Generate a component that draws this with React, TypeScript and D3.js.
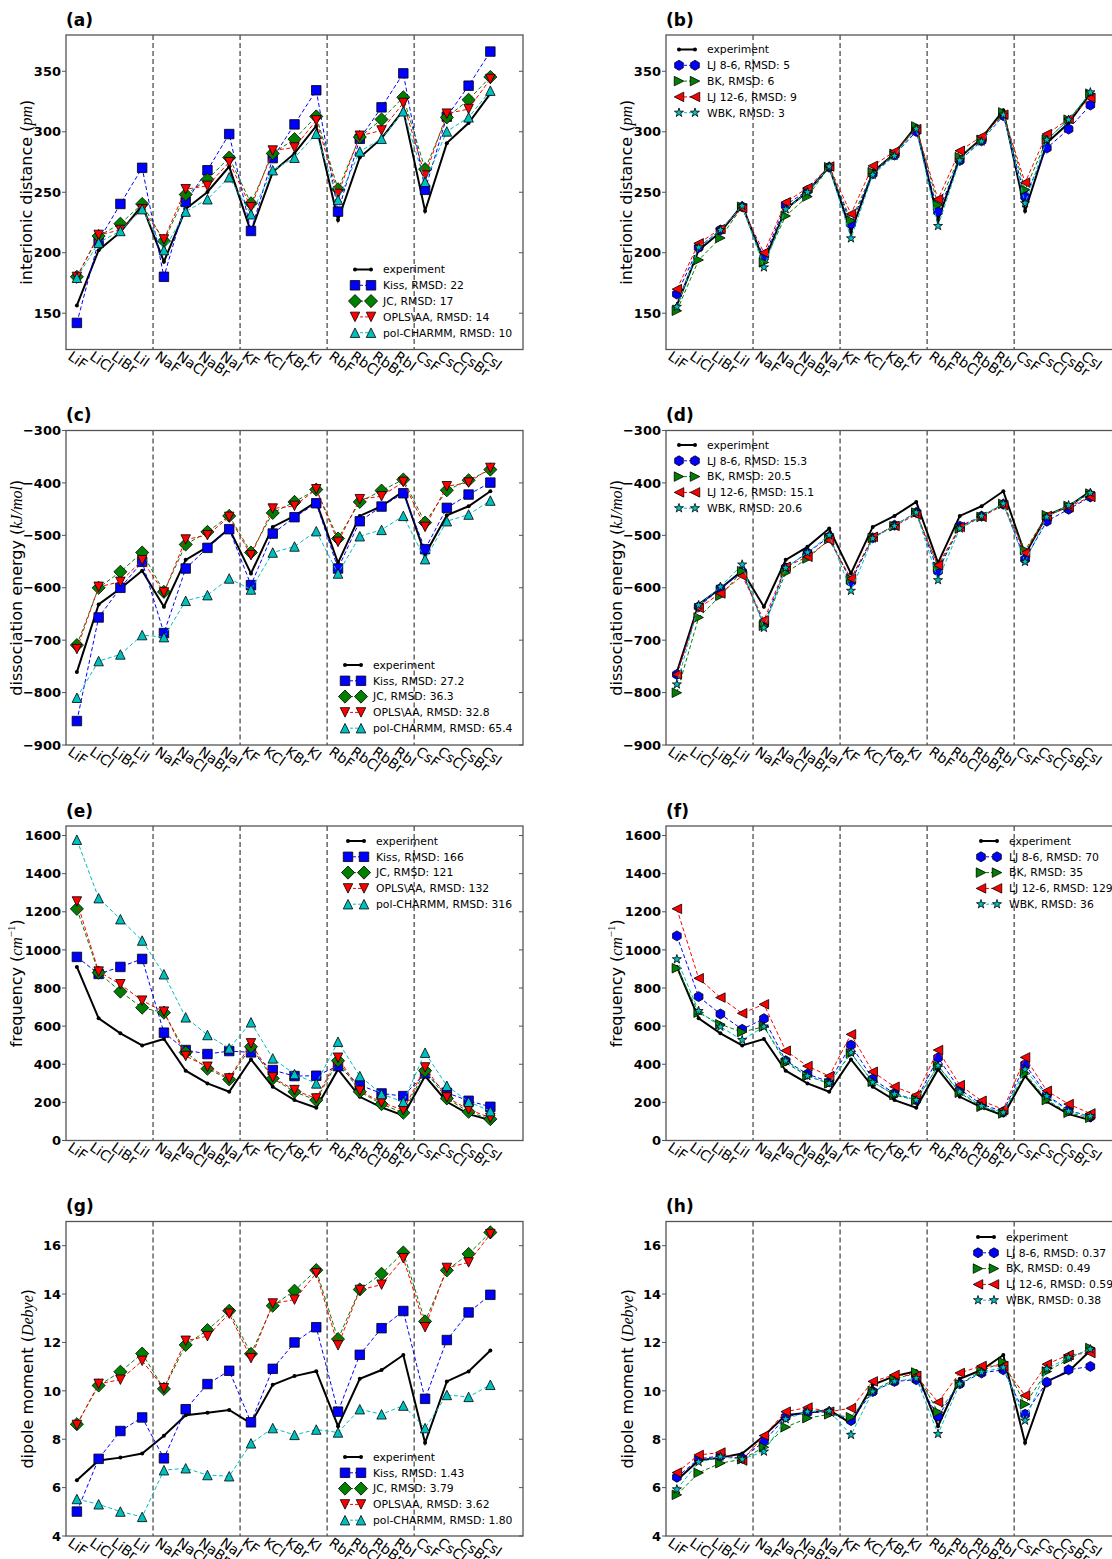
import React from "react";
import * as d3 from "d3";

// ---------- categories ----------
const salts = ["LiF","LiCl","LiBr","LiI","NaF","NaCl","NaBr","NaI","KF","KCl","KBr","KI","RbF","RbCl","RbBr","RbI","CsF","CsCl","CsBr","CsI"];
const separators = [3.5, 7.5, 11.5, 15.5];

// ---------- interionic distance (pm) ----------
const distExp = [156.4,202.1,217.0,239.2,192.6,236.1,250.2,271.2,217.2,266.7,282.1,304.8,227.0,278.7,294.5,317.7,234.5,290.6,307.2,331.5];
const distKiss = [142,210,240.3,270.2,180.1,242,268.2,298.1,218,278.2,306.1,334.3,234,294.2,320.2,348.3,252,312.5,338.1,366.3];
const distJC = [180.1,213.8,224,240.3,209.7,248.1,260.5,278.7,240.9,282.1,293.9,312.7,252.5,295.6,310.2,328.5,269.1,311.9,326.5,345.3];
const distOPLS = [180,214.7,218.8,236,211,252.5,255.3,274.9,237.6,284.5,287,309.4,248.6,296.7,301.1,323.8,263.8,315,318.8,343.6];
const distPol = [179.3,208.3,218,236,202.2,234,244.2,262.4,231.8,268.2,278.5,298.4,243.7,283.7,294.2,316.9,258.6,300.3,311.9,334];
const distLJ86 = [165.8,204.4,218.8,238,196.1,239.5,251.4,270.7,223.8,265.2,280.7,300.3,234,276.3,292.5,313.3,246.4,286.5,302.2,322.1];
const distBK = [152,194,212.2,238,192,230.4,246.4,270.7,226.5,266.6,281.8,304.4,239.5,279,293.4,316,252,293.4,310,331.5];
const distLJ126 = [169.9,207.8,219.6,236.8,200,241.7,253.6,271.3,232.1,271.8,283.7,302.2,244.2,284.3,296.1,314.1,258,298.1,310.5,327.9];
const distWBK = [155.3,204.4,218.8,238.7,187.9,235.9,250,271.3,211.9,264.4,280.1,302.5,222.1,276.3,292,314.1,240.9,293.4,310,332.6];

// ---------- dissociation energy (kJ/mol) ----------
const enExp = [-760.9,-631.9,-601.4,-567.7,-636.3,-546.8,-522,-487,-572.8,-483.9,-462.9,-436.2,-552.5,-462.9,-444.5,-415.9,-536.6,-461.6,-444.5,-415.9];
const enKiss = [-854.3,-656.7,-600.1,-550.6,-686.5,-563.3,-523.9,-488.3,-595,-496.6,-465.4,-438.8,-563.3,-473.1,-445.1,-419.7,-526.4,-447.6,-422.2,-399.4];
const enJC = [-709.4,-600.1,-569.6,-532.8,-607.8,-517.5,-493.4,-462.9,-532.8,-457.2,-436.2,-412.7,-506.1,-436.2,-414.6,-393.6,-475.6,-414,-394.9,-374.6];
const enOPLS = [-717,-598.2,-588.7,-547.4,-609,-508,-499.7,-464.8,-537.9,-448.9,-443.8,-412.1,-512.5,-431.1,-425.4,-398.1,-483.9,-406.4,-399.4,-371.4];
const enPol = [-809.8,-739.9,-727.2,-690.3,-694.2,-624.9,-614.1,-582.3,-603.3,-532.8,-521.3,-492.1,-572.8,-501.7,-489.6,-462.9,-545.5,-473.1,-460.4,-433.7];
const enLJ86 = [-765.3,-636.3,-601.4,-569.6,-670,-562,-533.4,-502.9,-588.7,-504.8,-480.7,-456.5,-568.4,-482.6,-463.5,-440.7,-545.5,-473.1,-450.2,-426.7];
const enBK = [-800.3,-656.7,-615.4,-568.4,-672.6,-571.5,-544.2,-507.4,-583.6,-504.8,-482.6,-456.5,-560.1,-487,-464.8,-440,-528.3,-461.6,-443.8,-420.3];
const enLJ126 = [-765.3,-638.2,-610.9,-577.3,-661.8,-560.1,-541,-509.3,-582.3,-502.9,-482,-460.4,-556.9,-483.9,-464.8,-442.6,-533.4,-462.9,-445.7,-426.7];
const enWBK = [-784.4,-633.2,-598.2,-555.7,-676.4,-562,-532.8,-499.7,-605.8,-506.1,-482,-456.5,-585.5,-487,-462.9,-439.4,-550.6,-464.8,-442.6,-419.1];

// ---------- frequency (cm^-1) ----------
const frExp = [910.7,641,562.2,499,532.4,366,299.5,255.7,425.6,282,211.9,171.6,373,229.4,173.4,131.3,338,203.2,138.4,106.8];
const frKiss = [963.2,873.9,910.7,952.7,565.7,474.6,453.6,469.3,462.3,369.5,338,339.8,390.5,290.7,246.9,232.9,352,250.4,208.4,176.9];
const frJC = [1215.4,880.9,781.1,697,670.7,462.3,376.5,320.5,492.1,325.7,255.7,211.9,418.6,255.7,190.9,145.4,366,220.7,150.6,112.1];
const frOPLS = [1253.9,886.2,819.6,733.8,676,443.1,387,325.7,509.6,331,264.4,220.7,434.3,260.9,199.7,159.4,383.5,225.9,162.9,119.1];
const frPol = [1578,1271.4,1161.1,1049,872.1,646.2,553.4,483.4,620,430.8,348.5,299.5,518.4,338,243.4,203.2,460.6,287.2,203.2,154.1];
const frLJ86 = [1073.6,754.8,663.7,583.2,639.2,418.6,348.5,308.2,500.9,322.2,246.9,211.9,434.3,268,190.9,150.6,399.3,238.2,159.4,124.3];
const frBK = [903.7,670.7,609.5,569.2,597.2,408.1,338,299.5,457.1,308.2,238.2,211.9,390.5,250.4,176.9,141.9,352,211.9,145.4,119.1];
const frLJ126 = [1215.4,851.1,749.6,667.2,714.5,471.1,390.5,338,556.9,360.8,282,238.2,474.6,290.7,208.4,162.9,436.1,260.9,190.9,141.9];
const frWBK = [951,679.5,597.2,527.1,597.2,418.6,338,299.5,460.6,304.7,243.4,211.9,392.3,255.7,180.4,147.1,373,232.9,154.1,127.8];

// ---------- dipole moment (Debye) ----------
const dpExp = [6.30,7.12,7.24,7.41,8.14,8.99,9.09,9.21,8.66,10.25,10.61,10.81,8.54,10.50,10.86,11.48,7.85,10.39,10.80,11.67];
const dpKiss = [5.01,7.19,8.34,8.90,7.21,9.24,10.28,10.83,8.70,10.91,12.00,12.63,9.14,11.49,12.59,13.30,9.67,12.10,13.24,13.97];
const dpJC = [8.62,10.22,10.79,11.54,10.08,11.90,12.51,13.31,11.53,13.52,14.14,14.99,12.14,14.19,14.84,15.72,12.87,14.98,15.66,16.55];
const dpOPLS = [8.59,10.29,10.46,11.24,10.11,12.07,12.26,13.19,11.35,13.61,13.77,14.86,11.88,14.17,14.39,15.48,12.63,15.08,15.31,16.48];
const dpPol = [5.53,5.31,5.01,4.79,6.72,6.80,6.52,6.47,7.83,8.46,8.18,8.40,8.28,9.24,9.03,9.39,8.46,9.83,9.75,10.25];
const dpLJ86 = [6.43,7.19,7.31,7.21,7.90,8.92,9.10,9.13,8.77,9.97,10.39,10.46,8.95,10.29,10.74,10.87,9.03,10.36,10.87,11.01];
const dpBK = [5.70,6.61,7.01,7.17,7.67,8.50,8.87,9.03,8.91,10.0,10.47,10.76,9.12,10.28,10.83,11.19,9.45,10.80,11.31,11.77];
const dpLJ126 = [6.62,7.35,7.45,7.12,8.15,9.14,9.31,9.14,9.28,10.39,10.66,10.62,9.53,10.74,11.03,11.03,9.81,11.10,11.49,11.56];
const dpWBK = [5.93,7.06,7.28,7.17,7.49,8.83,9.14,9.17,8.18,9.97,10.39,10.52,8.22,10.29,10.77,10.97,8.77,10.91,11.38,11.72];

// ---------- tick values ----------
const distTicks = [150,200,250,300,350];
const enTicks = [-900,-800,-700,-600,-500,-400,-300];
const frTicks = [0,200,400,600,800,1000,1200,1400,1600];
const dpTicks = [4,6,8,10,12,14,16];

// ---------- legend labels ----------
const legA = ["Kiss, RMSD: 22","JC, RMSD: 17","OPLS\\AA, RMSD: 14","pol-CHARMM, RMSD: 10"];
const legB = ["LJ 8-6, RMSD: 5","BK, RMSD: 6","LJ 12-6, RMSD: 9","WBK, RMSD: 3"];
const legC = ["Kiss, RMSD: 27.2","JC, RMSD: 36.3","OPLS\\AA, RMSD: 32.8","pol-CHARMM, RMSD: 65.4"];
const legD = ["LJ 8-6, RMSD: 15.3","BK, RMSD: 20.5","LJ 12-6, RMSD: 15.1","WBK, RMSD: 20.6"];
const legE = ["Kiss, RMSD: 166","JC, RMSD: 121","OPLS\\AA, RMSD: 132","pol-CHARMM, RMSD: 316"];
const legF = ["LJ 8-6, RMSD: 70","BK, RMSD: 35","LJ 12-6, RMSD: 129","WBK, RMSD: 36"];
const legG = ["Kiss, RMSD: 1.43","JC, RMSD: 3.79","OPLS\\AA, RMSD: 3.62","pol-CHARMM, RMSD: 1.80"];
const legH = ["LJ 8-6, RMSD: 0.37","BK, RMSD: 0.49","LJ 12-6, RMSD: 0.59","WBK, RMSD: 0.38"];

// ---------- styles ----------
const BLUE = "#0000ff", GREEN = "#008000", RED = "#ff0000", CYAN = "#00bfbf";
const leftMarkers = [["square", BLUE],["diamond", GREEN],["tri-down", RED],["tri-up", CYAN]];
const rightMarkers = [["hexagon", BLUE],["tri-right", GREEN],["tri-left", RED],["star", CYAN]];

const SANS = "DejaVu Sans, Verdana, sans-serif";
const MATH = "Liberation Serif, DejaVu Serif, serif";

function markerPath(kind: string, s = 9.5): string {
  const h = s / 2;
  switch (kind) {
    case "square": return `M${-h},${-h}H${h}V${h}H${-h}Z`;
    case "diamond": { const d = h * 1.38; return `M0,${-d}L${d},0L0,${d}L${-d},0Z`; }
    case "tri-up": return `M0,${-h}L${h},${h}L${-h},${h}Z`;
    case "tri-down": return `M0,${h}L${h},${-h}L${-h},${-h}Z`;
    case "tri-right": return `M${h},0L${-h},${h}L${-h},${-h}Z`;
    case "tri-left": return `M${-h},0L${h},${h}L${h},${-h}Z`;
    case "hexagon": {
      const r = h * 1.05;
      const pts = d3.range(6).map(k => { const a = (-90 + k * 60) * Math.PI / 180; return [r * Math.cos(a), r * Math.sin(a)]; });
      return "M" + pts.map(p => p[0].toFixed(2) + "," + p[1].toFixed(2)).join("L") + "Z";
    }
    case "star": {
      const R = h, r = h * 0.382;
      const pts = d3.range(10).map(k => { const rr = k % 2 === 0 ? R : r; const a = (-90 + k * 36) * Math.PI / 180; return [rr * Math.cos(a), rr * Math.sin(a)]; });
      return "M" + pts.map(p => p[0].toFixed(2) + "," + p[1].toFixed(2)).join("L") + "Z";
    }
  }
  return "";
}

type SeriesDef = { label: string; values: number[]; marker: string; color: string };
type PanelDef = {
  id: string; col: number; row: number;
  yDomain: [number, number]; ticks: number[];
  ylabel: React.ReactNode; ylabelOffset: number;
  exp: number[]; series: SeriesDef[];
  legend: [number, number];
};

const mk = (vals: number[][], labels: string[], markers: string[][]): SeriesDef[] =>
  vals.map((v, i) => ({ label: labels[i], values: v, marker: markers[i][0], color: markers[i][1] }));

const labDist = (<>interionic distance (<tspan fontFamily={MATH} fontStyle="italic">pm</tspan>)</>);
const labEn = (<>dissociation energy (<tspan fontFamily={MATH} fontStyle="italic">kJ/mol</tspan>)</>);
const labFr = (<>frequency (<tspan fontFamily={MATH} fontStyle="italic">cm</tspan><tspan fontFamily={MATH} fontSize={11} dy={-7}>−1</tspan><tspan dy={7}>)</tspan></>);
const labDp = (<>dipole moment (<tspan fontFamily={MATH} fontStyle="italic">Debye</tspan>)</>);

const panels: PanelDef[] = [
  { id: "a", col: 0, row: 0, yDomain: [120, 380], ticks: distTicks, ylabel: labDist, ylabelOffset: 34, exp: distExp,
    series: mk([distKiss, distJC, distOPLS, distPol], legA, leftMarkers), legend: [383, 269.5] },
  { id: "b", col: 1, row: 0, yDomain: [120, 380], ticks: distTicks, ylabel: labDist, ylabelOffset: 34, exp: distExp,
    series: mk([distLJ86, distBK, distLJ126, distWBK], legB, rightMarkers), legend: [707, 49.5] },
  { id: "c", col: 0, row: 1, yDomain: [-900, -300], ticks: enTicks, ylabel: labEn, ylabelOffset: 44, exp: enExp,
    series: mk([enKiss, enJC, enOPLS, enPol], legC, leftMarkers), legend: [373, 665] },
  { id: "d", col: 1, row: 1, yDomain: [-900, -300], ticks: enTicks, ylabel: labEn, ylabelOffset: 44, exp: enExp,
    series: mk([enLJ86, enBK, enLJ126, enWBK], legD, rightMarkers), legend: [707, 445] },
  { id: "e", col: 0, row: 2, yDomain: [0, 1650], ticks: frTicks, ylabel: labFr, ylabelOffset: 44, exp: frExp,
    series: mk([frKiss, frJC, frOPLS, frPol], legE, leftMarkers), legend: [376, 841] },
  { id: "f", col: 1, row: 2, yDomain: [0, 1650], ticks: frTicks, ylabel: labFr, ylabelOffset: 44, exp: frExp,
    series: mk([frLJ86, frBK, frLJ126, frWBK], legF, rightMarkers), legend: [1009, 841] },
  { id: "g", col: 0, row: 3, yDomain: [4, 17], ticks: dpTicks, ylabel: labDp, ylabelOffset: 33, exp: dpExp,
    series: mk([dpKiss, dpJC, dpOPLS, dpPol], legG, leftMarkers), legend: [373, 1457] },
  { id: "h", col: 1, row: 3, yDomain: [4, 17], ticks: dpTicks, ylabel: labDp, ylabelOffset: 33, exp: dpExp,
    series: mk([dpLJ86, dpBK, dpLJ126, dpWBK], legH, rightMarkers), legend: [1006, 1237] },
];

const COLX = [66, 666];
const ROWY = [35, 430.5, 826, 1221.5];
const PW = 457, PH = 314.5;
const FRAME = "#555";

function Panel({ p }: { p: PanelDef }) {
  const left = COLX[p.col], top = ROWY[p.row];
  const x = d3.scaleLinear().domain([-0.5, 20.5]).range([left, left + PW]);
  const y = d3.scaleLinear().domain(p.yDomain).range([top + PH, top]);
  const line = d3.line<number>().x((_, i) => x(i)).y(d => y(d));
  const fmt = d3.format("d");
  const [tx, ty] = p.legend;
  const m1 = tx - 28, m2 = tx - 12, rowH = 15.8;
  return (
    <g>
      <text x={left} y={top - 9.5} fontFamily={SANS} fontWeight="bold" fontSize={17}>({p.id})</text>
      {separators.map(s => (
        <line key={s} x1={x(s)} x2={x(s)} y1={top} y2={top + PH} stroke="#666" strokeWidth={1.5} strokeDasharray="5,3" />
      ))}
      <path d={line(p.exp) || ""} fill="none" stroke="#000" strokeWidth={2} />
      {p.exp.map((v, i) => <circle key={i} cx={x(i)} cy={y(v)} r={2} fill="#000" />)}
      {p.series.map((s, si) => (
        <g key={si}>
          <path d={line(s.values) || ""} fill="none" stroke={s.color} strokeWidth={1} strokeDasharray="4,2.5" />
          {s.values.map((v, i) => (
            <path key={i} d={markerPath(s.marker)} transform={`translate(${x(i)},${y(v)})`} fill={s.color} stroke="#000" strokeWidth={0.8} />
          ))}
        </g>
      ))}
      <rect x={left} y={top} width={PW} height={PH} fill="none" stroke={FRAME} strokeWidth={1.3} />
      {p.ticks.map(t => (
        <g key={t}>
          <line x1={left - 4} x2={left} y1={y(t)} y2={y(t)} stroke={FRAME} strokeWidth={1} />
          <line x1={left + PW - 4} x2={left + PW} y1={y(t)} y2={y(t)} stroke={FRAME} strokeWidth={1} />
          <text x={left - 5} y={y(t)} dy="0.36em" textAnchor="end" fontFamily={SANS} fontWeight="bold" fontSize={13}>{fmt(t)}</text>
        </g>
      ))}
      {salts.map((s, i) => (
        <text key={s} transform={`translate(${x(i) - 10},${top + PH + 9}) rotate(35)`} fontFamily={SANS} fontSize={14}>{s}</text>
      ))}
      <text transform={`translate(${left - p.ylabelOffset},${top + PH / 2}) rotate(-90)`} textAnchor="middle" fontFamily={SANS} fontSize={16}>{p.ylabel}</text>
      <g fontFamily={SANS} fontSize={10.8}>
        <line x1={m1} x2={m2} y1={ty} y2={ty} stroke="#000" strokeWidth={2} />
        <circle cx={m1} cy={ty} r={2} fill="#000" />
        <circle cx={m2} cy={ty} r={2} fill="#000" />
        <text x={tx} y={ty} dy="0.36em">experiment</text>
        {p.series.map((s, si) => {
          const yy = ty + (si + 1) * rowH;
          return (
            <g key={si}>
              <line x1={m1} x2={m2} y1={yy} y2={yy} stroke={s.color} strokeWidth={1} strokeDasharray="3,2" />
              <path d={markerPath(s.marker)} transform={`translate(${m1},${yy})`} fill={s.color} stroke="#000" strokeWidth={0.8} />
              <path d={markerPath(s.marker)} transform={`translate(${m2},${yy})`} fill={s.color} stroke="#000" strokeWidth={0.8} />
              <text x={tx} y={yy} dy="0.36em">{s.label}</text>
            </g>
          );
        })}
      </g>
    </g>
  );
}

export default function App() {
  return (
    <svg width={1112} height={1559} viewBox="0 0 1112 1559"
      style={{ position: "absolute", left: 0, top: 0, background: "#fff", display: "block" }}>
      <rect x={0} y={0} width={1112} height={1559} fill="#fff" />
      {panels.map(p => <Panel key={p.id} p={p} />)}
    </svg>
  );
}
